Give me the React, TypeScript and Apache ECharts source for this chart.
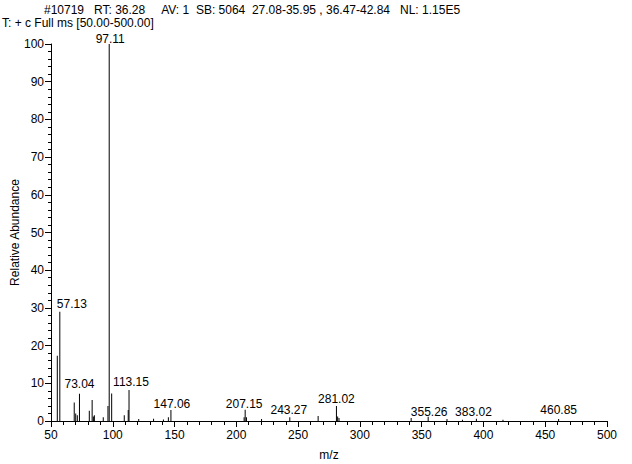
import React, { useEffect, useRef } from "react";
import * as echarts from "echarts";

const headerLine1 = "#10719   RT: 36.28     AV: 1  SB: 5064  27.08-35.95 , 36.47-42.84   NL: 1.15E5";
const headerLine2 = "T: + c Full ms [50.00-500.00]";

// m/z of each peak
const peakMz = [
  55.1, 57.13, 68.8, 70.0, 71.3, 73.04, 81.0, 83.3, 84.3, 85.1, 92.3, 96.1, 97.11, 99.1,
  109.3, 112.5, 113.15, 121.0, 133.0, 141.0, 145.0, 147.06, 206.3, 207.15, 208.2, 220.4,
  243.27, 266.2, 281.02, 282.0, 283.1, 341.5, 355.26, 370.5, 383.02, 394.3, 415.8, 460.85,
];
// relative abundance of each peak
const peakAbundance = [
  17.3, 29.0, 4.9, 2.0, 1.5, 7.2, 2.7, 5.6, 1.2, 1.5, 1.0, 4.0, 100, 7.3,
  1.5, 2.9, 8.2, 0.5, 0.6, 0.4, 1.0, 2.9, 1.0, 3.0, 1.0, 0.5,
  1.0, 1.3, 4.0, 1.2, 0.8, 0.8, 1.1, 0.5, 0.3, 0.6, 0.3, 0.5,
];
// peaks that carry a label
const labelledPeaks = ["57.13", "73.04", "97.11", "113.15", "147.06", "207.15", "243.27", "281.02", "355.26", "383.02", "460.85"];

const xTicks = { min: 50, max: 500, interval: 50 };
const yTicks = { min: 0, max: 100, interval: 10 };

const labelOffsets: Record<string, [number, number]> = {
  "57.13": [12, -2],
  "97.11": [1, 1],
  "73.04": [0, -4],
  "113.15": [2, -2],
  "147.06": [1, 0],
  "207.15": [-1, 0],
  "243.27": [-1, -1],
  "281.02": [0, -1],
  "355.26": [1, 1],
  "383.02": [11, -2],
  "460.85": [0, -3],
};

const FONT = "'Liberation Sans', Arial, sans-serif";

export default function App() {
  const ref = useRef<HTMLDivElement>(null);
  useEffect(() => {
    if (!ref.current) return;
    const chart = echarts.init(ref.current, null, { renderer: "svg" });
    const data = peakMz.map((mz, i) => {
      const key = mz.toFixed(2);
      const labelled = labelledPeaks.includes(key);
      return {
        value: [mz, peakAbundance[i]],
        label: labelled
          ? {
              show: true,
              position: "top",
              distance: 0,
              formatter: key,
              offset: labelOffsets[key] || [0, 0],
            }
          : { show: false },
      };
    });
    chart.setOption({
      animation: false,
      backgroundColor: "#ffffff",
      textStyle: { fontFamily: FONT, color: "#000" },
      title: [
        {
          text: headerLine1,
          left: 44,
          top: 4,
          padding: 0,
          textStyle: { fontSize: 12, fontWeight: "normal", color: "#000", fontFamily: FONT },
        },
        {
          text: headerLine2,
          left: 2,
          top: 17,
          padding: 0,
          textStyle: { fontSize: 12, fontWeight: "normal", color: "#000", fontFamily: FONT },
        },
      ],
      grid: { left: 51, right: 25, top: 44, bottom: 43, containLabel: false, outerBoundsMode: "none" },
      xAxis: {
        type: "value",
        min: xTicks.min,
        max: xTicks.max,
        interval: xTicks.interval,
        name: "m/z",
        nameLocation: "middle",
        nameGap: 28,
        nameMoveOverlap: false,
        nameTextStyle: { fontSize: 12, color: "#000", fontFamily: FONT },
        axisLine: { show: true, lineStyle: { color: "#000", width: 1 } },
        axisTick: { show: true, length: 6, lineStyle: { color: "#000" } },
        minorTick: { show: true, splitNumber: 5, length: 4, lineStyle: { color: "#000" } },
        axisLabel: { fontSize: 12, color: "#000", margin: 8, fontFamily: FONT },
        splitLine: { show: false },
      },
      yAxis: {
        type: "value",
        min: yTicks.min,
        max: yTicks.max,
        interval: yTicks.interval,
        name: "Relative Abundance",
        nameLocation: "middle",
        nameGap: 30,
        nameMoveOverlap: false,
        nameTextStyle: { fontSize: 12, color: "#000", fontFamily: FONT },
        axisLine: { show: true, lineStyle: { color: "#000", width: 1 } },
        axisTick: { show: true, length: 6, lineStyle: { color: "#000" } },
        minorTick: { show: true, splitNumber: 5, length: 3, lineStyle: { color: "#000" } },
        axisLabel: { fontSize: 12, color: "#000", margin: 7, fontFamily: FONT },
        splitLine: { show: false },
      },
      series: [
        {
          type: "bar",
          barWidth: 1,
          itemStyle: { color: "#000" },
          label: { fontSize: 12, color: "#000", fontFamily: FONT },
          data,
        },
      ],
    });
    return () => chart.dispose();
  }, []);
  return (
    <div
      ref={ref}
      style={{ position: "absolute", left: 0, top: 0, width: 632, height: 464 }}
    />
  );
}
